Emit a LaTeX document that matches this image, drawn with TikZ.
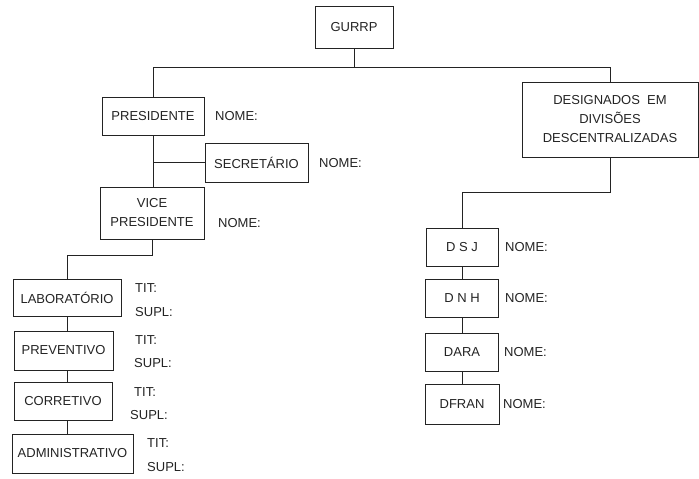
\documentclass[tikz,border=0pt]{standalone}
\usepackage{fontspec}
\setmainfont{Liberation Sans}
\usetikzlibrary{positioning,calc}
\definecolor{tinta}{RGB}{35,35,35}

\tikzset{
  caixa/.style={draw=tinta, line width=0.8pt, inner sep=2pt, align=center, text=tinta},
  rotulo/.style={anchor=west, inner sep=0pt, text=tinta},
  liga/.style={draw=tinta, line width=0.8pt}
}

\begin{document}
\begin{tikzpicture}[x=1pt, y=-1pt, font=\fontsize{13}{19}\selectfont]
  \useasboundingbox (0,0) rectangle (699,479);

  % topo
  \node[caixa, minimum width=78pt, minimum height=42pt] (gurrp) at (354,27) {GURRP};
  \coordinate (barra) at (0,67);

  % ramo da esquerda
  \node[caixa, minimum width=102pt, minimum height=38pt] (pres) at (153,116) {PRESIDENTE};
  \node[caixa, minimum width=103pt, minimum height=39pt] (secr) at (256.5,162.5) {SECRETÁRIO};
  \node[caixa, minimum width=104pt, minimum height=52pt] (vice) at (152,213) {VICE\\PRESIDENTE};
  \node[rotulo] (npres) at (215,116) {NOME:};
  \node[rotulo] (nsecr) at (319,163) {NOME:};
  \node[rotulo] (nvice) at (218,223) {NOME:};

  \node[caixa, minimum width=108pt, minimum height=37pt] (lab) at (67,297.5) {LABORATÓRIO};
  \node[caixa, minimum width=99pt, minimum height=39pt] (prev) at (63.5,350.5) {PREVENTIVO};
  \node[caixa, minimum width=98pt, minimum height=38pt] (corr) at (63,401) {CORRETIVO};
  \node[caixa, minimum width=121pt, minimum height=39pt] (adm) at (72.5,453.5) {ADMINISTRATIVO};
  \node[rotulo] (tlab) at (135,288) {TIT:};
  \node[rotulo] (slab) at (135,312) {SUPL:};
  \node[rotulo] (tprev) at (135,340) {TIT:};
  \node[rotulo] (sprev) at (134,363) {SUPL:};
  \node[rotulo] (tcorr) at (134,392) {TIT:};
  \node[rotulo] (scorr) at (130,415) {SUPL:};
  \node[rotulo] (tadm) at (147,443) {TIT:};
  \node[rotulo] (sadm) at (147,467) {SUPL:};

  % ramo da direita
  \node[caixa, minimum width=176pt, minimum height=75pt] (desig) at (610,119.5)
       {DESIGNADOS\ \ EM\\DIVISÕES\\DESCENTRALIZADAS};
  \coordinate (barrad) at (0,192);
  \node[caixa, minimum width=72pt, minimum height=38pt] (dsj) at (462,247) {D S J};
  \node[caixa, minimum width=73pt, minimum height=38pt] (dnh) at (462,298) {D N H};
  \node[caixa, minimum width=73pt, minimum height=38pt] (dara) at (462,352) {DARA};
  \node[caixa, minimum width=74pt, minimum height=40pt] (dfran) at (462,404) {DFRAN};
  \node[rotulo] (ndsj) at (505,247) {NOME:};
  \node[rotulo] (ndnh) at (505,298) {NOME:};
  \node[rotulo] (ndara) at (504,352) {NOME:};
  \node[rotulo] (ndfran) at (503,404) {NOME:};

  % ligacoes
  \draw[liga] (gurrp.south) -- (gurrp.south |- barra);
  \draw[liga] (pres.north) |- (desig.north |- barra) -- (desig.north);
  \draw[liga] (pres.south) -- (pres.south |- vice.north);
  \draw[liga] (secr.west) -- (secr.west -| pres.south);
  \draw[liga] (vice.south) |- ($(lab.north)+(0,-23)$) -- (lab.north);
  \draw[liga] (lab.south) -- (lab.south |- prev.north);
  \draw[liga] (lab.south |- prev.south) -- (lab.south |- corr.north);
  \draw[liga] (lab.south |- corr.south) -- (lab.south |- adm.north);
  \draw[liga] (desig.south) |- (dsj.north |- barrad) -- (dsj.north);
  \draw[liga] (dsj.south) -- (dnh.north);
  \draw[liga] (dnh.south) -- (dara.north);
  \draw[liga] (dara.south) -- (dfran.north);
\end{tikzpicture}
\end{document}
